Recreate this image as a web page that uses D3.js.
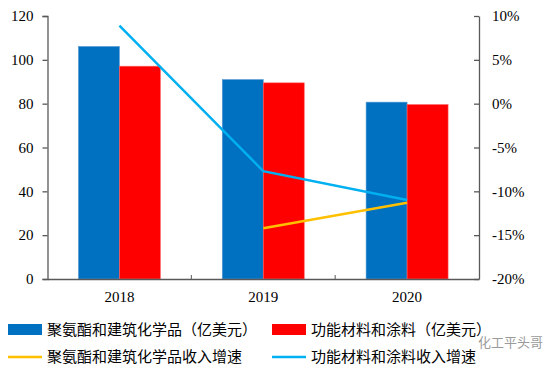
<!DOCTYPE html>
<html>
<head>
<meta charset="utf-8">
<script src="https://cdn.jsdelivr.net/npm/d3@7"></script>
<style>
  body { margin: 0; background: #fff; }
  .tick text { font-family: "Liberation Serif", serif; font-size: 15px; fill: #000; }
  .legend text { font-family: "Noto Sans CJK SC", sans-serif; font-size: 15px; fill: #000; }
</style>
</head>
<body>
<div id="chart"></div>
<script>
// data
var years = ["2018", "2019", "2020"];
var puValues = [106.1, 91.0, 80.7];        // 聚氨酯和建筑化学品（亿美元）
var coatValues = [97.1, 89.5, 79.6];       // 功能材料和涂料（亿美元）
var puGrowth = [null, -14.2, -11.3];       // 聚氨酯和建筑化学品收入增速 (%)
var coatGrowth = [8.9, -7.7, -11.0];       // 功能材料和涂料收入增速 (%)
var leftTicks = [0, 20, 40, 60, 80, 100, 120];
var rightTicks = [-20, -15, -10, -5, 0, 5, 10];

var svgWidth = 554;
var svgHeight = 370;

var margin = { top: 16, right: 75, bottom: 91, left: 47.5 };
var width = svgWidth - margin.left - margin.right;
var height = svgHeight - margin.top - margin.bottom;

var svg = d3.select("#chart")
  .append("svg")
  .attr("width", svgWidth)
  .attr("height", svgHeight);

var chartGroup = svg.append("g")
  .attr("transform", `translate(${margin.left}, ${margin.top})`);

var xScale = d3.scaleBand()
  .domain(years)
  .range([0, width]);

var yLeft = d3.scaleLinear().domain([0, 120]).range([height, 0]);
var yRight = d3.scaleLinear().domain([-20, 10]).range([height, 0]);

var barW = xScale.bandwidth() * 0.285;

// bars
chartGroup.selectAll(".puBar")
  .data(years)
  .join("rect")
  .attr("class", "puBar")
  .attr("x", d => xScale(d) + xScale.bandwidth() / 2 - barW)
  .attr("y", (d, i) => yLeft(puValues[i]))
  .attr("width", barW)
  .attr("height", (d, i) => height - yLeft(puValues[i]))
  .attr("fill", "#0070C0")
  .attr("stroke", "#5b9bd5")
  .attr("stroke-width", 0.6);

chartGroup.selectAll(".coatBar")
  .data(years)
  .join("rect")
  .attr("class", "coatBar")
  .attr("x", d => xScale(d) + xScale.bandwidth() / 2)
  .attr("y", (d, i) => yLeft(coatValues[i]))
  .attr("width", barW)
  .attr("height", (d, i) => height - yLeft(coatValues[i]))
  .attr("fill", "#FF0000")
  .attr("stroke", "#ff6666")
  .attr("stroke-width", 0.6);

// lines
var lineGen = d3.line()
  .defined(d => d.v !== null)
  .x(d => xScale(d.year) + xScale.bandwidth() / 2)
  .y(d => yRight(d.v));

chartGroup.append("path")
  .datum(years.map((y, i) => ({ year: y, v: puGrowth[i] })))
  .attr("d", lineGen)
  .attr("fill", "none")
  .attr("stroke", "#FFC000")
  .attr("stroke-width", 2.5);

chartGroup.append("path")
  .datum(years.map((y, i) => ({ year: y, v: coatGrowth[i] })))
  .attr("d", lineGen)
  .attr("fill", "none")
  .attr("stroke", "#00B0F0")
  .attr("stroke-width", 2.5);

// axes
var leftAxis = d3.axisLeft(yLeft).tickValues(leftTicks).tickSizeOuter(0).tickSize(5).tickPadding(9);
var rightAxis = d3.axisRight(yRight).tickValues(rightTicks)
  .tickFormat(d => d + "%").tickSizeInner(-5).tickSizeOuter(0).tickPadding(13);

var gl = chartGroup.append("g").call(leftAxis);
var gr = chartGroup.append("g").attr("transform", `translate(${width}, 0)`).call(rightAxis);

var bottomAxis = d3.axisBottom(xScale).tickSize(0).tickPadding(12);
var gb = chartGroup.append("g").attr("transform", `translate(0, ${height})`).call(bottomAxis);

// category separators pointing up
chartGroup.selectAll(".sep")
  .data(years.slice(1))
  .join("line")
  .attr("class", "sep")
  .attr("x1", d => xScale(d))
  .attr("x2", d => xScale(d))
  .attr("y1", height)
  .attr("y2", height - 4)
  .attr("stroke", "#595959");

[gl, gr, gb].forEach(g => {
  g.selectAll(".domain").attr("stroke", "#595959").attr("stroke-width", 1.3);
  g.selectAll(".tick line").attr("stroke", "#595959").attr("stroke-width", 1.3);
});

// legend
var legendItems = [
  { label: "聚氨酯和建筑化学品（亿美元）", color: "#0070C0", type: "bar", x: 8, y: 330 },
  { label: "功能材料和涂料（亿美元）", color: "#FF0000", type: "bar", x: 272, y: 330 },
  { label: "聚氨酯和建筑化学品收入增速", color: "#FFC000", type: "line", x: 8, y: 357 },
  { label: "功能材料和涂料收入增速", color: "#00B0F0", type: "line", x: 272, y: 357 }
];

var legend = svg.append("g").attr("class", "legend");

legendItems.forEach(item => {
  if (item.type === "bar") {
    legend.append("rect")
      .attr("x", item.x).attr("y", item.y - 6)
      .attr("width", 34).attr("height", 11)
      .attr("fill", item.color);
  } else {
    legend.append("line")
      .attr("x1", item.x).attr("x2", item.x + 34)
      .attr("y1", item.y).attr("y2", item.y)
      .attr("stroke", item.color).attr("stroke-width", 2.5);
  }
  legend.append("text")
    .attr("x", item.x + 39)
    .attr("y", item.y)
    .attr("dy", "0.35em")
    .text(item.label);
});

// watermark
svg.append("text")
  .attr("x", 478)
  .attr("y", 347)
  .attr("font-family", "Noto Sans CJK SC, sans-serif")
  .attr("font-size", 13)
  .attr("fill", "#9a9a9a")
  .text("化工平头哥");
</script>
</body>
</html>
